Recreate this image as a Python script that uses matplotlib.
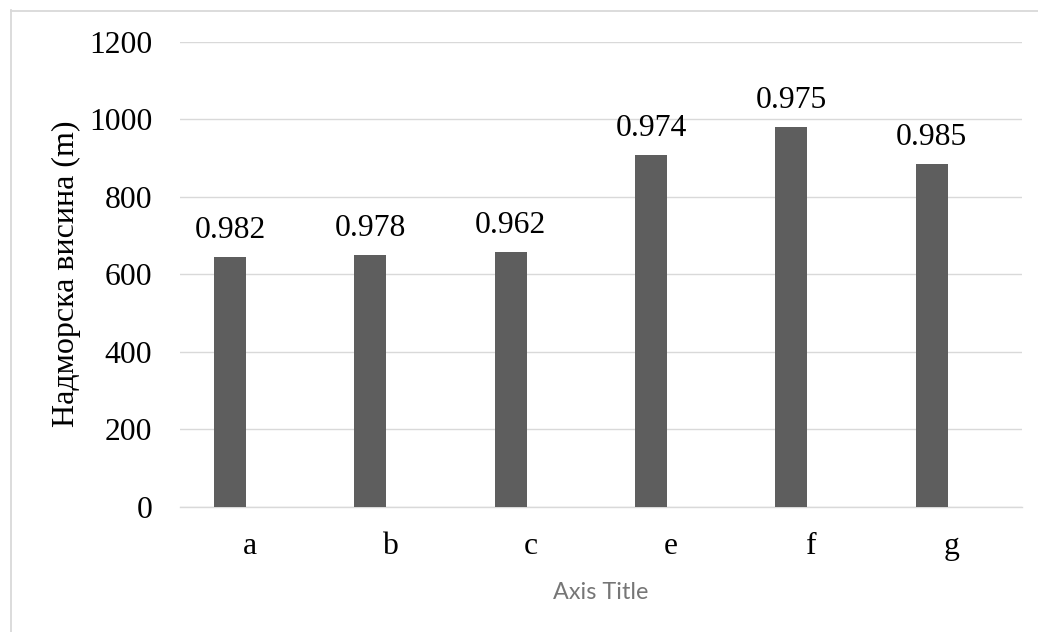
import matplotlib
matplotlib.use("Agg")
import matplotlib.pyplot as plt
from matplotlib.lines import Line2D
import numpy as np

categories = ["a", "b", "c", "e", "f", "g"]
heights = [644, 650, 658, 908, 981, 884]
bar_labels = ["0.982", "0.978", "0.962", "0.974", "0.975", "0.985"]
yticks = [0, 200, 400, 600, 800, 1000, 1200]

W, H = 1038, 632
fig = plt.figure(figsize=(W / 100, H / 100), dpi=100)
fig.patch.set_facecolor("white")

left, right, bottom, top = 180, 1022, 506.7, 41.7
ax = fig.add_axes([left / W, 1 - bottom / H, (right - left) / W, (bottom - top) / H])

serif = ["Liberation Serif", "DejaVu Serif"]
x = np.arange(len(categories))
offset = -0.144
width = 0.228
bars = ax.bar(x + offset, heights, width=width, color="#5e5e5e", zorder=3)

ax.set_xlim(-0.5, len(categories) - 0.5)
ax.set_ylim(0, 1200)
ax.set_yticks(yticks)
ax.set_yticklabels([str(t) for t in yticks], family=serif, fontsize=22.8)
ax.set_xticks(x)
ax.set_xticklabels(categories, family=serif, fontsize=22.8)
ax.tick_params(axis="both", length=0)
ax.tick_params(axis="y", pad=20)
ax.tick_params(axis="x", pad=18.5)

ax.grid(axis="y", color="#d9d9d9", linewidth=1.0, zorder=0)
ax.grid(axis="x", visible=False)
for s in ["top", "right", "left"]:
    ax.spines[s].set_visible(False)
ax.spines["bottom"].set_color("#d9d9d9")
ax.spines["bottom"].set_linewidth(1.0)

for rect, lab in zip(bars, bar_labels):
    ax.annotate(lab, (rect.get_x() + rect.get_width() / 2, rect.get_height()),
                xytext=(0, 13.5), textcoords="offset points",
                ha="center", va="baseline", family=serif, fontsize=22.8,
                color="#000000")

ax.set_ylabel("Надморска висина (m)", family=serif, fontsize=23, labelpad=6)
ax.set_xlabel("Axis Title", family=["Lato", "DejaVu Sans"], fontsize=16.8,
              color="#767676", labelpad=14.5)

# outer chart frame (cut at right and bottom)
fig.add_artist(Line2D([10.5 / W, 10.5 / W], [0, 1 - 10 / H], transform=fig.transFigure,
                      color="#d9d9d9", linewidth=1.3))
fig.add_artist(Line2D([10.5 / W, 1], [1 - 10.5 / H, 1 - 10.5 / H], transform=fig.transFigure,
                      color="#d9d9d9", linewidth=1.3))

fig.savefig("out.png", dpi=100, facecolor="white")
